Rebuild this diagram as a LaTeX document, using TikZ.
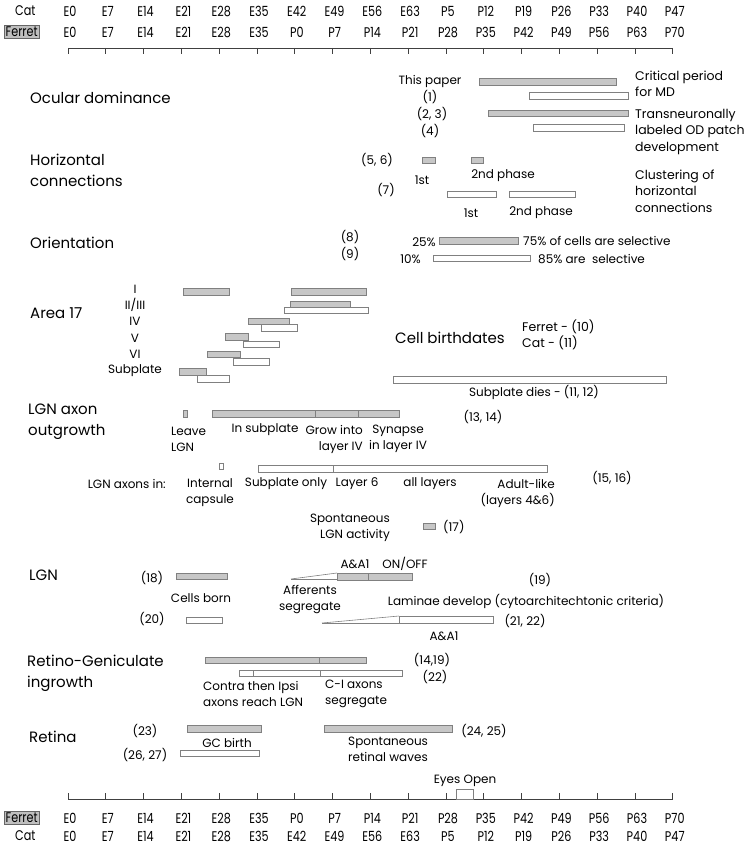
\documentclass[tikz,border=0pt]{standalone}
\usepackage{fontspec}
\setmainfont{Poppins}
\newfontfamily\condfont{Poppins}[FakeStretch=0.8]
\usepackage{tikz}
\usetikzlibrary{positioning}

\begin{document}
\begin{tikzpicture}[x=1pt,y=-1pt,
    lbl/.style={font=\fontsize{12}{16}\selectfont, inner sep=0pt, align=center},
    note/.style={font=\fontsize{12.5}{16.5}\selectfont, inner sep=0pt, anchor=west, align=left},
    sect/.style={font=\fontsize{15}{21}\selectfont, inner sep=0pt, anchor=west, align=left},
    axlab/.style={font=\condfont\fontsize{14}{15}\selectfont, inner sep=0pt},
    graybar/.style={draw=black!50, fill=black!22, line width=0.6pt},
    whitebar/.style={draw=black!50, fill=white, line width=0.6pt},
    divider/.style={draw=black!50, line width=0.6pt},
    axis/.style={draw=black!75, line width=0.7pt}]
  \useasboundingbox (0,0) rectangle (749,845);

  % time axes
  \node[axlab, anchor=west] (cattop) at (15,11) {Cat};
  \node[axlab, anchor=west, draw=black!60, fill=black!25, inner sep=1.5pt] (ferrettop) at (4,32) {Ferret};
  \foreach \lab [count=\k from 0] in {E0,E7,E14,E21,E28,E35,E42,E49,E56,E63,P5,P12,P19,P26,P33,P40,P47}
    \node[axlab] (ct\k) at ({70+37.8*\k},11) {\lab};
  \foreach \lab [count=\k from 0] in {E0,E7,E14,E21,E28,E35,P0,P7,P14,P21,P28,P35,P42,P49,P56,P63,P70}
    \node[axlab] (ft\k) at ({70+37.8*\k},32) {\lab};
  \draw[axis] (68,48) -- (673,48);
  \draw[axis] (68,799) -- (673,799);
  \foreach \k in {0,...,16} {
    \draw[axis] ({68+37.8*\k},48) -- ++(0,6);
    \draw[axis] ({68+37.8*\k},799) -- ++(0,-6);
  }
  \node[axlab, anchor=west, draw=black!60, fill=black!25, inner sep=1.5pt] (ferretbot) at (4,818) {Ferret};
  \node[axlab, anchor=west] (catbot) at (15,836) {Cat};
  \foreach \lab [count=\k from 0] in {E0,E7,E14,E21,E28,E35,P0,P7,P14,P21,P28,P35,P42,P49,P56,P63,P70}
    \node[axlab] (fb\k) at ({70+37.8*\k},818) {\lab};
  \foreach \lab [count=\k from 0] in {E0,E7,E14,E21,E28,E35,E42,E49,E56,E63,P5,P12,P19,P26,P33,P40,P47}
    \node[axlab] (cb\k) at ({70+37.8*\k},836) {\lab};
  \draw[whitebar] (456,789) rectangle (473,799);
  \node[lbl] (eyes) at (465,781) {Eyes Open};

  % section titles
  \node[sect] (od) at (30,98) {Ocular dominance};
  \node[sect] (hc) at (30,170) {Horizontal\\connections};
  \node[sect] (ori) at (30,243) {Orientation};
  \node[sect] (area) at (30,313) {Area 17};
  \node[sect] (axon) at (28,422) {LGN axon\\outgrowth};
  \node[sect] (lgn) at (29,575) {LGN};
  \node[sect] (rg) at (27,673) {Retino-Geniculate\\ingrowth};
  \node[sect] (ret) at (29,737) {Retina};

  % ocular dominance
  \draw[graybar] (479,78) rectangle (616,85);
  \draw[whitebar] (529,92) rectangle (628,99);
  \draw[graybar] (488,110) rectangle (628,116);
  \draw[whitebar] (533,124) rectangle (624,131);
  \node[lbl] (odpaper) at (430,81) {This paper};
  \node[lbl] (odone) at (430,97) {(1)};
  \node[lbl] (odtwo) at (432,114) {(2, 3)};
  \node[lbl] (odfour) at (430,131) {(4)};
  \node[note] (odcrit) at (635,84) {Critical period\\for MD};
  \node[note] (odpatch) at (635,132) {Transneuronally\\labeled OD patch\\development};

  % horizontal connections
  \draw[graybar] (422,157) rectangle (435,163);
  \draw[graybar] (471,157) rectangle (483,163);
  \draw[whitebar] (447,191) rectangle (496,197);
  \draw[whitebar] (509,191) rectangle (575,197);
  \node[lbl] (hcfive) at (377,160) {(5, 6)};
  \node[lbl] (hcseven) at (386,190) {(7)};
  \node[lbl] (hcfirst) at (422,180) {1st};
  \node[lbl] (hcsecond) at (503,176) {2nd phase};
  \node[lbl] (hcfirstb) at (471,213) {1st};
  \node[lbl] (hcsecondb) at (541,213) {2nd phase};
  \node[note] (hcclust) at (635,191) {Clustering of\\horizontal\\connections};

  % orientation
  \draw[graybar] (439,237) rectangle (518,244);
  \draw[whitebar] (433,255) rectangle (530,261);
  \node[lbl] (orieight) at (350,237) {(8)};
  \node[lbl] (orinine) at (350,254) {(9)};
  \node[lbl, anchor=east] (oriquart) at (436,242) {25\%};
  \node[lbl, anchor=west] (orithree) at (523,241) {75\% of cells are selective};
  \node[lbl, anchor=east] (oriten) at (421,259) {10\%};
  \node[lbl, anchor=west] (orieighty) at (538,259) {85\% are\ \ selective};

  % area 17 cell birthdates
  \node[lbl] (lone) at (135,289) {I};
  \node[lbl] (ltwo) at (135,305) {II/III};
  \node[lbl] (lfour) at (135,321) {IV};
  \node[lbl] (lfive) at (135,338) {V};
  \node[lbl] (lsix) at (135,354) {VI};
  \node[lbl] (lsub) at (135,371) {Subplate};
  \draw[graybar] (183,288) rectangle (229,295);
  \draw[graybar] (291,288) rectangle (366,295);
  \draw[graybar] (290,301) rectangle (350,307);
  \draw[whitebar] (284,307) rectangle (368,313);
  \draw[graybar] (248,318) rectangle (289,324);
  \draw[whitebar] (261,324) rectangle (297,331);
  \draw[graybar] (225,333) rectangle (248,340);
  \draw[whitebar] (243,341) rectangle (279,347);
  \draw[graybar] (207,351) rectangle (240,357);
  \draw[whitebar] (233,358) rectangle (269,365);
  \draw[graybar] (179,368) rectangle (206,375);
  \draw[whitebar] (197,375) rectangle (229,382);
  \node[sect, anchor=center] (birth) at (450,338) {Cell birthdates};
  \node[note] (birthsrc) at (522,335) {Ferret - (10)\\Cat - (11)};
  \draw[whitebar] (393,376) rectangle (666,383);
  \node[lbl] (subdies) at (534,392) {Subplate dies - (11, 12)};

  % LGN axon outgrowth
  \draw[graybar] (183,410) rectangle (187,417);
  \draw[graybar] (212,410) rectangle (399,417);
  \draw[divider] (315,410) -- (315,417);
  \draw[divider] (358,410) -- (358,417);
  \node[lbl, anchor=west, align=left] (leave) at (171,439) {Leave\\LGN};
  \node[lbl] (insub) at (265,430) {In subplate};
  \node[lbl, anchor=east, align=right] (grow) at (363,439) {Grow into\\layer IV};
  \node[lbl] (synapse) at (398,439) {Synapse\\in layer IV};
  \node[lbl] (axonref) at (483,417) {(13, 14)};
  \node[lbl, anchor=east] (axonsin) at (166,484) {LGN axons in:};
  \draw[whitebar] (219,463) rectangle (223,469);
  \draw[whitebar] (258,465) rectangle (547,472);
  \draw[divider] (333,465) -- (333,472);
  \node[lbl] (internal) at (210,493) {Internal\\capsule};
  \node[lbl] (subonly) at (286,484) {Subplate only};
  \node[lbl] (layersix) at (357,484) {Layer 6};
  \node[lbl] (alllay) at (430,484) {all layers};
  \node[lbl, anchor=east, align=right] (adult) at (555,493) {Adult-like\\(layers 4\&6)};
  \node[lbl] (axinref) at (612,478) {(15, 16)};
  \node[lbl, anchor=east, align=right] (spont) at (390,528) {Spontaneous\\LGN activity};
  \draw[graybar] (423,523) rectangle (435,529);
  \node[lbl, anchor=west] (spontref) at (443,527) {(17)};

  % LGN
  \node[lbl] (lgnref) at (152,578) {(18)};
  \draw[graybar] (176,573) rectangle (227,579);
  \node[lbl] (born) at (201,598) {Cells born};
  \draw[divider] (291,579) -- (337,573);
  \draw[divider] (291,579) -- (337,579);
  \draw[graybar] (337,573) rectangle (412,580);
  \draw[divider] (368,573) -- (368,580);
  \node[lbl] (lgnaa) at (355,564) {A\&A1};
  \node[lbl] (lgnon) at (405,564) {ON/OFF};
  \node[lbl] (lgnnine) at (540,580) {(19)};
  \node[lbl] (aff) at (310,600) {Afferents\\segregate};
  \node[lbl] (laminae) at (526,601) {Laminae develop (cytoarchitechtonic criteria)};
  \node[lbl] (lgntwenty) at (152,619) {(20)};
  \draw[whitebar] (186,617) rectangle (222,623);
  \draw[divider] (322,623) -- (399,616);
  \draw[divider] (322,623) -- (399,623);
  \draw[whitebar] (399,616) rectangle (493,623);
  \node[lbl] (lamaa) at (444,636) {A\&A1};
  \node[lbl] (lamref) at (525,621) {(21, 22)};

  % retino-geniculate ingrowth
  \draw[graybar] (205,657) rectangle (366,663);
  \draw[divider] (319,657) -- (319,663);
  \draw[whitebar] (239,670) rectangle (402,676);
  \draw[divider] (253,670) -- (253,676);
  \draw[divider] (320,670) -- (320,676);
  \node[lbl] (rgref) at (432,660) {(14,19)};
  \node[lbl] (rgtwo) at (435,677) {(22)};
  \node[lbl, anchor=west, align=left] (contra) at (203,694) {Contra then Ipsi\\axons reach LGN};
  \node[lbl, anchor=west, align=left] (ciax) at (325,694) {C-I axons\\segregate};

  % retina
  \node[lbl] (retref) at (145,731) {(23)};
  \draw[graybar] (187,725) rectangle (261,732);
  \draw[graybar] (324,725) rectangle (452,732);
  \node[lbl] (wavesref) at (484,731) {(24, 25)};
  \node[lbl] (gc) at (227,743) {GC birth};
  \node[lbl] (gcref) at (145,755) {(26, 27)};
  \draw[whitebar] (180,750) rectangle (259,756);
  \node[lbl, anchor=west, align=left] (waves) at (348,749) {Spontaneous\\retinal waves};
\end{tikzpicture}
\end{document}
